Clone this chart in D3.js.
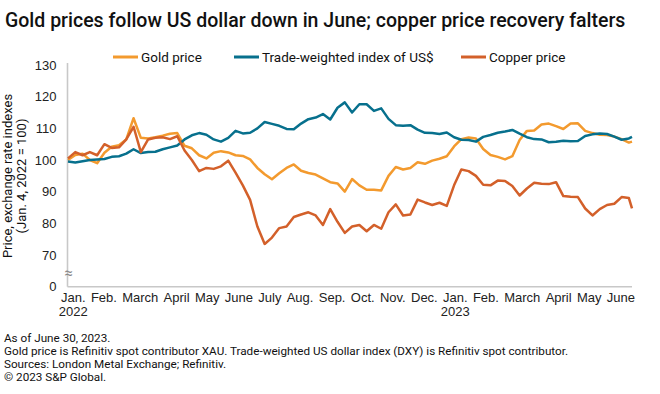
<!DOCTYPE html>
<html>
<head>
<meta charset="utf-8">
<script src="https://cdn.jsdelivr.net/npm/d3@7"></script>
<style>
    body { margin: 0; background: #fff; }
    svg { font-family: Roboto, "Noto Sans", sans-serif; display: block; }
    .tick text { fill: #222; font-size: 13px; }
</style>
</head>
<body>
<div class="chart"></div>
<script>

// Weekly readings, starting Jan. 4, 2022, last point June 30, 2023
var startDate = new Date(2022, 0, 4);
var endDate = new Date(2023, 5, 30);
var dates = d3.range(78).map(function(i) { return d3.timeDay.offset(startDate, 7 * i); });
dates.push(endDate);

var gold = [
    100, 101.6, 102, 100, 99, 102.3, 104.2, 104.7, 106.5, 113.2,
    107, 106.8, 107.2, 107.7, 108.3, 108.5, 104.5, 103.7, 101.5, 100.5,
    102.3, 102.8, 102.4, 101.5, 101.3, 100.2, 97.5, 95.5, 93.9, 95.8,
    97.5, 98.6, 96.6, 95.9, 95.4, 94.2, 93, 92.6, 90, 94,
    92, 90.6, 90.6, 90.4, 95, 97.8, 97, 97.5, 99.3, 98.8,
    99.8, 100.4, 101.2, 104.3, 106.6, 107.1, 106.8, 103.5, 101.6, 101,
    100.2, 101.2, 106.3, 109.2, 109.3, 111.2, 111.5, 110.7, 109.8, 111.5,
    111.6, 109.2, 108.5, 108, 107.9, 107.4, 106.6, 105.5, 105.8
];

var dollar = [
    99.5, 99.2, 99.6, 100, 100.2, 100.3, 101, 101.2, 102, 103.4,
    102.2, 102.5, 102.6, 103.4, 104, 104.6, 106.5, 107.8, 108.5, 108,
    106.5, 105.8, 107, 109.2, 108.4, 108.6, 110, 112, 111.4, 110.8,
    109.8, 109.7, 111.5, 112.9, 113.4, 114.5, 112.8, 116.5, 118.2, 115,
    117.6, 117.6, 115.5, 116.3, 113, 111, 110.8, 111, 109.6, 108.6,
    108.5, 108.2, 108.7, 107.2, 106.4, 106.3, 105.8, 107.3, 107.9, 108.6,
    109, 109.5, 108.3, 107.2, 106.6, 106.5, 105.6, 105.8, 106.1, 105.9,
    106, 107.6, 108.1, 108.4, 108.2, 107.4, 106.4, 106.8, 107.3
];

var copper = [
    100.5, 102.5, 101.5, 102.5, 101.5, 105, 103.8, 104, 106.5, 110.5,
    102.5, 106.5, 107, 107.2, 106.6, 107.5, 103, 100, 96.5, 97.5,
    97.2, 98, 99.8, 96, 92, 87.4, 79, 73.5, 75.5, 78.5,
    79, 82, 82.8, 83.5, 82.5, 79.5, 84.5, 80.5, 77, 79,
    79.5, 77.5, 79.5, 78.3, 83.5, 86, 82.5, 82.8, 87.5, 86.6,
    85.8, 86.5, 85.5, 92, 97, 96.5, 95, 92.2, 92, 93.5,
    93.4, 91.8, 88.8, 91, 92.8, 92.5, 92.4, 93, 88.6, 88.4,
    88.3, 84.7, 82.5, 84.5, 85.8, 86.2, 88.3, 88, 84.7
];

var seriesNames = ["Gold price", "Trade-weighted index of US$", "Copper price"];
var seriesColors = ["#f39a2e", "#07708d", "#d3602a"];

var yTicks = [60, 70, 80, 90, 100, 110, 120, 130];
var monthLabels = ["Jan.", "Feb.", "March", "April", "May", "June", "July", "Aug.", "Sep.",
    "Oct.", "Nov.", "Dec.", "Jan.", "Feb.", "March", "April", "May", "June"];
var yearLabels = { 0: "2022", 12: "2023" };

var title = "Gold prices follow US dollar down in June; copper price recovery falters";
var yTitle = ["Price, exchange rate indexes", "(Jan. 4, 2022 = 100)"];
var notes = [
    "As of June 30, 2023.",
    "Gold price is Refinitiv spot contributor XAU. Trade-weighted US dollar index (DXY) is Refinitiv spot contributor.",
    "Sources: London Metal Exchange; Refinitiv.",
    "\u00a9 2023 S&P Global."
];

var width = 660, height = 394;

var svg = d3.select(".chart")
    .append("svg")
      .attr("width", width)
      .attr("height", height);

// Title
svg.append("text")
    .attr("x", 5)
    .attr("y", 27)
    .style("font-size", "19.5px")
    .style("font-weight", 500)
    .style("fill", "#111")
    .text(title);

// Scales: the axis is broken, the bottom tick (60) is labelled 0
var x = d3.scaleTime()
    .domain([startDate, endDate])
    .range([68, 632]);

var y = d3.scaleLinear()
    .domain([60, 130])
    .range([286.7, 65]);

// Y axis
var yAxis = d3.axisLeft(y)
    .tickValues(yTicks)
    .tickFormat(function(d) { return d === 60 ? "0" : d; })
    .tickSize(0)
    .tickPadding(11);

var gy = svg.append("g")
    .attr("transform", "translate(67.5,0)")
    .call(yAxis);

gy.select(".domain")
    .attr("d", "M0," + (y(130) - 2) + "V" + y(60))
    .style("stroke", "#c8c8c8")
    .style("stroke-width", 1.6);

// Axis break mark
svg.append("text")
    .attr("x", 68.5)
    .attr("y", 278)
    .attr("text-anchor", "middle")
    .style("font-size", "15px")
    .style("fill", "#888")
    .text("\u2248");

// X axis line
svg.append("line")
    .attr("x1", 67.5)
    .attr("x2", x.range()[1])
    .attr("y1", y(60))
    .attr("y2", y(60))
    .style("stroke", "#c8c8c8")
    .style("stroke-width", 1.6);

// Month labels: one per month, flowed along the axis
var xMonths = d3.scalePoint()
    .domain(d3.range(monthLabels.length))
    .range([71, 623]);

var xAxis = d3.axisBottom(xMonths)
    .tickFormat(function(i) { return monthLabels[i]; })
    .tickSize(0)
    .tickPadding(6);

var gx = svg.append("g")
    .attr("transform", "translate(0," + y(60) + ")")
    .call(xAxis);

gx.select(".domain").remove();

gx.selectAll(".tick")
    .filter(function(i) { return yearLabels[i]; })
    .append("text")
      .attr("y", 20)
      .attr("dy", "0.71em")
      .attr("text-anchor", "middle")
      .text(function(i) { return yearLabels[i]; });

// Spread the labels with an even gap between them
var ticks = gx.selectAll(".tick").nodes();
var widths = ticks.map(function(t) { return t.querySelector("text").getComputedTextLength(); });
var labelLeft = 61, labelRight = 635;
var gap = (labelRight - labelLeft - d3.sum(widths)) / (ticks.length - 1);
var pos = labelLeft;
ticks.forEach(function(t, i) {
    d3.select(t).attr("transform", "translate(" + (pos + widths[i] / 2) + ",0)");
    pos += widths[i] + gap;
});

// Y axis title
var yt = svg.append("text")
    .attr("transform", "translate(0,176) rotate(-90)")
    .attr("text-anchor", "middle")
    .style("font-size", "13px")
    .style("fill", "#111");

yt.selectAll("tspan")
    .data(yTitle)
    .enter().append("tspan")
      .attr("x", 0)
      .attr("y", function(d, i) { return 12 + i * 14; })
      .text(function(d) { return d; });

// Lines
var line = d3.line()
    .x(function(d, i) { return x(dates[i]); })
    .y(function(d) { return y(d); });

[gold, dollar, copper].forEach(function(values, k) {
    svg.append("path")
        .datum(values)
        .attr("d", line)
        .style("fill", "none")
        .style("stroke", seriesColors[k])
        .style("stroke-width", 2.5)
        .style("stroke-linejoin", "round");
});

// Legend
var legendX = [113, 234, 461];

var legend = svg.append("g")
    .attr("transform", "translate(0,57)")
    .selectAll("g")
    .data(seriesNames)
    .enter().append("g")
      .attr("transform", function(d, i) { return "translate(" + legendX[i] + ",0)"; });

legend.append("line")
    .attr("x1", 0)
    .attr("x2", 25)
    .style("stroke", function(d, i) { return seriesColors[i]; })
    .style("stroke-width", 3);

legend.append("text")
    .attr("x", 28)
    .attr("dy", "0.35em")
    .style("font-size", "13.5px")
    .style("fill", "#111")
    .text(function(d) { return d; });

// Footnotes
svg.append("g")
    .selectAll("text")
    .data(notes)
    .enter().append("text")
      .attr("x", 4)
      .attr("y", function(d, i) { return 342 + i * 13; })
      .style("font-size", "11.7px")
      .style("fill", "#111")
      .text(function(d) { return d; });

</script>
</body>
</html>
